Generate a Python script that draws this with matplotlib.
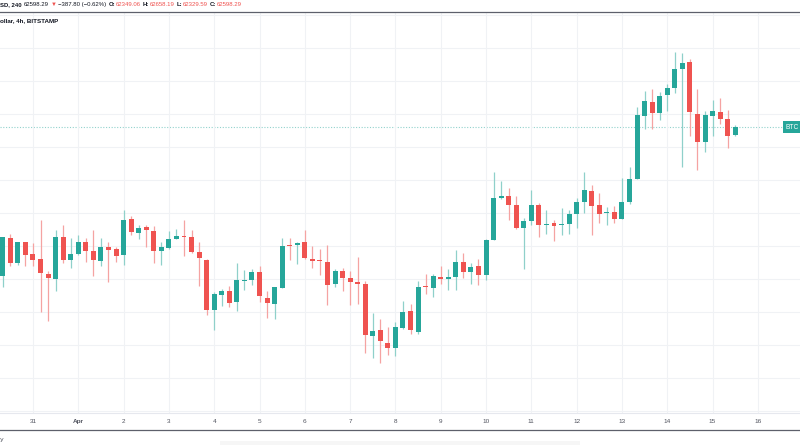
import matplotlib
matplotlib.use("Agg")
import matplotlib.pyplot as plt
from matplotlib.lines import Line2D
from matplotlib.patches import Rectangle
import numpy as np

# 4h BTCUSD candles, first one starts Mar 30 08:00
opens = [58103, 59251, 58486, 59110, 58758, 58607, 58154, 58003, 59271, 58587,
         58758, 59120, 58848, 58546, 58969, 58909, 58718, 59815, 59382, 59563,
         59463, 58838, 58939, 59211, 59302, 59271, 58828, 58577, 57056, 57529,
         57640, 57318, 57932, 57962, 58204, 57439, 57247, 57741, 59030, 59040,
         59120, 58597, 58577, 58516, 57846, 58252, 58019, 57917, 57857, 56285,
         56467, 56072, 55910, 56518, 57035, 56386, 57775, 57725, 58070, 57999,
         58059, 58526, 58212, 58384, 58124, 59195, 60440, 60521, 60236, 59532,
         59767, 60256, 59624, 59695, 59624, 59665, 59971, 60338, 60674, 60236,
         59991, 60042, 59818, 60338, 61031, 62939, 63376, 63030, 63589, 63802,
         64350, 64573, 63000, 62137, 62939, 63061, 62838, 62349.06]
highs = [59271, 59362, 59130, 59120, 59080, 59795, 58254, 59483, 59634, 59251,
         59322, 59251, 59483, 59251, 59110, 58959, 60087, 59906, 59634, 59634,
         59594, 59120, 59443, 59523, 59795, 59473, 59130, 58600, 57620, 57700,
         57801, 58486, 58264, 58305, 58385, 57650, 57760, 59251, 59231, 59110,
         59473, 59010, 58909, 59023, 58303, 58333, 58232, 58678, 57928, 56964,
         56802, 56548, 56691, 57319, 57258, 57928, 58141, 58151, 58404, 58303,
         58891, 58779, 58485, 58617, 59210, 61235, 60980, 60766, 60521, 59858,
         60685, 60297, 60103, 59777, 60164, 60093, 60440, 61256, 60838, 60603,
         60185, 60215, 61072, 61388, 63220, 63700, 63761, 63670, 63924, 64888,
         64847, 64665, 63761, 63091, 63426, 63487, 63112, 62658.19]
lows = [57751, 58405, 58436, 58385, 58395, 56996, 56714, 57630, 58486, 58325,
        58728, 58506, 58093, 58395, 57922, 58526, 58436, 59332, 59211, 58959,
        58476, 58436, 58909, 59201, 58687, 58788, 57781, 56915, 56452, 57197,
        57157, 57036, 57660, 57821, 57298, 56824, 56794, 57721, 58587, 58456,
        58607, 58335, 58123, 57218, 57745, 57623, 57218, 57248, 55758, 55595,
        55443, 55697, 55666, 56500, 56336, 56336, 57542, 57451, 57836, 57664,
        57664, 58019, 57846, 57826, 57971, 59175, 60419, 59787, 59512, 58298,
        59624, 59277, 59379, 59165, 59338, 59379, 59542, 59991, 59338, 59705,
        59644, 59685, 59808, 60287, 61020, 62553, 62553, 62817, 63081, 63629,
        61396, 62340, 61315, 61843, 62320, 62685, 61975, 62329.59]
closes = [59271, 58476, 59110, 58738, 58587, 58174, 58023, 59271, 58567, 58758,
          59110, 58838, 58567, 58959, 58879, 58708, 59785, 59432, 59543, 59473,
          58838, 58979, 59211, 59302, 59271, 58808, 58627, 57056, 57539, 57640,
          57277, 57962, 57972, 58204, 57479, 57267, 57751, 59010, 59000, 59100,
          58627, 58557, 58536, 57826, 58252, 58019, 57897, 57857, 56305, 56427,
          56112, 55920, 56538, 57015, 56447, 57745, 57745, 58090, 57999, 58049,
          58516, 58201, 58374, 58110, 59195, 60440, 60521, 60246, 59532, 59767,
          60236, 59624, 59675, 59614, 59665, 59971, 60338, 60685, 60205, 59981,
          60042, 59828, 60338, 61031, 62960, 63386, 63030, 63558, 63782, 64350,
          64553, 63051, 62137, 62970, 63081, 62838, 62320, 62598.29]

day_labels = ['31', 'Apr', '2', '3', '4', '5', '6', '7', '8', '9', '10',
              '11', '12', '13', '14', '15', '16']
last_price = 62598.29

UP = '#26a69a'
DOWN = '#ef5350'
UP_WICK = '#8fd0ca'
DOWN_WICK = '#f5a3a2'
TEXT = '#131722'

W, H = 800, 445
fig = plt.figure(figsize=(W / 100, H / 100), dpi=100)
ax = fig.add_axes([0, 1 - 413 / H, 1, 401 / H])

o = np.array(opens, float)
h = np.array(highs, float)
l = np.array(lows, float)
c = np.array(closes, float)
# x in days from Mar 31 00:00
x = -16 / 24 + np.arange(len(o)) / 6
up = c >= o

ax.vlines(x[up], l[up], h[up], color=UP_WICK, lw=0.9, zorder=2)
ax.vlines(x[~up], l[~up], h[~up], color=DOWN_WICK, lw=0.9, zorder=2)
body_lo = np.minimum(o, c)
body_h = np.maximum(np.abs(c - o), 35)
ax.bar(x[up], body_h[up], bottom=body_lo[up], width=0.11, color=UP, lw=0, zorder=3)
ax.bar(x[~up], body_h[~up], bottom=body_lo[~up], width=0.11, color=DOWN, lw=0, zorder=3)

ax.axhline(last_price, color=UP, lw=0.8, ls=(0, (1, 1.5)), alpha=0.5, zorder=1)

ax.set_xlim(-0.728, 16.93)
ax.set_ylim(53940, 66091)
ax.set_yticks(np.arange(54000, 66001, 1000))
ax.set_xticks(np.arange(len(day_labels)))
ax.set_xticklabels(day_labels, fontsize=4.6, color='#50535e', family='Liberation Sans')
for t in ax.get_xticklabels():
    if t.get_text() == 'Apr':
        t.set_fontweight('bold')
ax.tick_params(axis='x', length=0, pad=4)
ax.tick_params(axis='y', left=False, labelleft=False)
ax.grid(True, color='#f0f2f5', lw=0.8, zorder=0)
for s in ['top', 'left', 'right']:
    ax.spines[s].set_visible(False)
ax.spines['bottom'].set_color('#e6e8ee')
ax.spines['bottom'].set_linewidth(0.8)

# price tag on the right edge
ax.text(0.982, last_price, 'BTC', transform=ax.get_yaxis_transform(),
        fontsize=4.8, color='white', va='center', ha='left', family='Liberation Sans',
        bbox=dict(boxstyle='square,pad=0.35', fc=UP, ec='none'))

# header: pieces laid out one after another so they never overlap
renderer = fig.canvas.get_renderer()


def header_line(py, pieces, size=4.3):
    px = 0.0
    for s, color, weight, gap in pieces:
        t = fig.text(px / W, 1 - py / H, s, fontsize=size, color=color,
                     fontweight=weight, va='center', ha='left',
                     family=['Liberation Sans', 'DejaVu Sans'])
        bb = t.get_window_extent(renderer)
        px += bb.width + gap


header_line(4.5, [
    ('SD, 240', TEXT, 'bold', 2.5),
    ('62598.29', TEXT, 'normal', 1.5),
    ('▼', DOWN, 'normal', 1.5),
    ('−387.80 (−0.62%)', TEXT, 'normal', 2.5),
    ('O:', TEXT, 'bold', 0.5),
    ('62349.06', DOWN, 'normal', 2.0),
    ('H:', TEXT, 'bold', 0.5),
    ('62658.19', DOWN, 'normal', 2.0),
    ('L:', TEXT, 'bold', 0.5),
    ('62329.59', DOWN, 'normal', 2.0),
    ('C:', TEXT, 'bold', 0.5),
    ('62598.29', DOWN, 'normal', 0),
])
header_line(20.5, [('ollar, 4h, BITSTAMP', TEXT, 'bold', 0)], size=4.5)

fig.add_artist(Line2D([0, 1], [1 - 12 / H, 1 - 12 / H], color='#5d606b', lw=0.9))
fig.add_artist(Line2D([0, 1], [1 - 429.5 / H, 1 - 429.5 / H], color='#5d606b', lw=0.9))
fig.add_artist(Rectangle((220 / W, 0), 360 / W, 4 / H, color='#f6f6f6', lw=0))
fig.text(0, 1 - 440 / H, 'y', fontsize=4.5, color='#50535e', va='center', ha='left')

fig.savefig('out.png', dpi=100)
